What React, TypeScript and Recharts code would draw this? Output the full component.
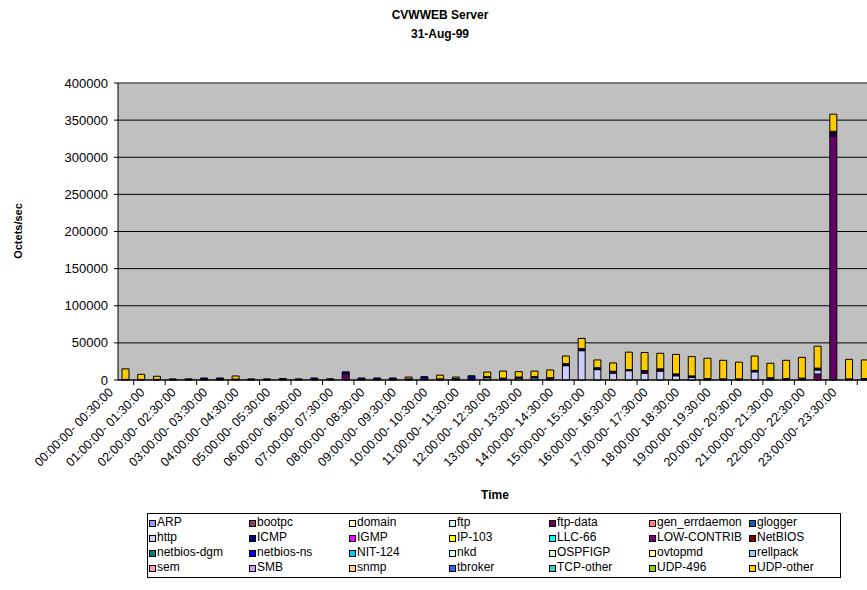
import React from 'react';
import { BarChart, Bar, XAxis, YAxis, CartesianGrid, ReferenceLine } from 'recharts';

const FONT = '"Liberation Sans", Arial, sans-serif';

const TIMES = [
  '00:00:00- 00:30:00', '00:30:00- 01:00:00', '01:00:00- 01:30:00', '01:30:00- 02:00:00',
  '02:00:00- 02:30:00', '02:30:00- 03:00:00', '03:00:00- 03:30:00', '03:30:00- 04:00:00',
  '04:00:00- 04:30:00', '04:30:00- 05:00:00', '05:00:00- 05:30:00', '05:30:00- 06:00:00',
  '06:00:00- 06:30:00', '06:30:00- 07:00:00', '07:00:00- 07:30:00', '07:30:00- 08:00:00',
  '08:00:00- 08:30:00', '08:30:00- 09:00:00', '09:00:00- 09:30:00', '09:30:00- 10:00:00',
  '10:00:00- 10:30:00', '10:30:00- 11:00:00', '11:00:00- 11:30:00', '11:30:00- 12:00:00',
  '12:00:00- 12:30:00', '12:30:00- 13:00:00', '13:00:00- 13:30:00', '13:30:00- 14:00:00',
  '14:00:00- 14:30:00', '14:30:00- 15:00:00', '15:00:00- 15:30:00', '15:30:00- 16:00:00',
  '16:00:00- 16:30:00', '16:30:00- 17:00:00', '17:00:00- 17:30:00', '17:30:00- 18:00:00',
  '18:00:00- 18:30:00', '18:30:00- 19:00:00', '19:00:00- 19:30:00', '19:30:00- 20:00:00',
  '20:00:00- 20:30:00', '20:30:00- 21:00:00', '21:00:00- 21:30:00', '21:30:00- 22:00:00',
  '22:00:00- 22:30:00', '22:30:00- 23:00:00', '23:00:00- 23:30:00', '23:30:00- 00:00:00',
];

const Y_TICKS = [0, 50000, 100000, 150000, 200000, 250000, 300000, 350000, 400000];

const ARP = [
  0, 0, 0, 0, 0, 0, 0, 0,
  0, 0, 0, 0, 0, 0, 0, 0,
  0, 0, 0, 0, 0, 0, 0, 0,
  0, 0, 3000, 1500, 0, 0, 0, 0,
  0, 0, 0, 0, 0, 0, 0, 0,
  0, 0, 0, 0, 0, 0, 0, 0,
];
const FTP_DATA = [
  0, 0, 0, 0, 0, 0, 0, 0,
  0, 0, 0, 0, 0, 0, 8000, 0,
  0, 0, 0, 0, 0, 0, 0, 0,
  0, 0, 0, 0, 0, 0, 0, 0,
  0, 0, 0, 0, 0, 0, 0, 0,
  0, 0, 0, 0, 8000, 328500, 0, 0,
];
const HTTP = [
  0, 0, 0, 0, 0, 0, 0, 0,
  0, 0, 0, 0, 0, 0, 0, 0,
  0, 0, 0, 0, 0, 0, 0, 3000,
  0, 2500, 0, 0, 19300, 39500, 14000, 9300,
  12500, 9300, 12000, 5700, 3500, 0, 0, 0,
  11000, 0, 0, 0, 5500, 0, 0, 0,
];
const ICMP = [
  800, 700, 800, 1500, 1500, 2700, 2700, 1200,
  1500, 1500, 2000, 1500, 2700, 1700, 3000, 2700,
  2700, 2700, 1500, 4500, 1500, 1800, 5700, 1500,
  2500, 1500, 1500, 1500, 2700, 2700, 2500, 2500,
  1500, 0, 0, 2500, 2000, 2000, 1500, 1500,
  2000, 3000, 2000, 2500, 2500, 4000, 1500, 2000,
];
const LOW_CONTRIB = [
  0, 0, 0, 0, 0, 0, 0, 0,
  0, 0, 0, 0, 0, 0, 0, 0,
  0, 0, 0, 0, 0, 0, 0, 0,
  0, 0, 0, 0, 0, 0, 0, 0,
  0, 2000, 1500, 0, 0, 0, 0, 0,
  0, 0, 0, 0, 0, 0, 0, 0,
];
const NETBIOS = [
  0, 0, 0, 0, 0, 0, 0, 0,
  0, 0, 0, 0, 0, 0, 0, 0,
  0, 0, 0, 0, 0, 0, 0, 0,
  0, 0, 0, 0, 0, 0, 0, 0,
  0, 1500, 1500, 0, 0, 0, 0, 0,
  0, 0, 0, 0, 0, 2500, 0, 0,
];
const UDP_OTHER = [
  14200, 7000, 4200, 0, 0, 0, 0, 4200,
  0, 0, 0, 0, 0, 0, 0, 0,
  0, 0, 2500, 0, 5000, 2200, 0, 6200,
  9500, 7200, 7500, 10500, 10300, 13800, 10500, 11200,
  23500, 24200, 21000, 26300, 26000, 27300, 25000, 22500,
  19300, 19500, 24500, 28000, 29500, 23000, 26300, 25000,
];

const LEGEND_NAMES = [
  'ARP', 'bootpc', 'domain', 'ftp', 'ftp-data', 'gen_errdaemon', 'glogger',
  'http', 'ICMP', 'IGMP', 'IP-103', 'LLC-66', 'LOW-CONTRIB', 'NetBIOS',
  'netbios-dgm', 'netbios-ns', 'NIT-124', 'nkd', 'OSPFIGP', 'ovtopmd', 'rellpack',
  'sem', 'SMB', 'snmp', 'tbroker', 'TCP-other', 'UDP-496', 'UDP-other',
];
const LEGEND_COLORS = [
  '#9999FF', '#993366', '#FFFFCC', '#CCFFFF', '#660066', '#FF8080', '#0066CC',
  '#CCCCFF', '#000080', '#FF00FF', '#FFFF00', '#00FFFF', '#800080', '#800000',
  '#008080', '#0000FF', '#00CCFF', '#CCFFFF', '#CCFFCC', '#FFFF99', '#99CCFF',
  '#FF99CC', '#CC99FF', '#FFCC99', '#3366FF', '#33CCCC', '#99CC00', '#FFCC00',
];

const SERIES: { key: string; values: number[] }[] = [
  { key: 'ARP', values: ARP },
  { key: 'ftp-data', values: FTP_DATA },
  { key: 'http', values: HTTP },
  { key: 'ICMP', values: ICMP },
  { key: 'LOW-CONTRIB', values: LOW_CONTRIB },
  { key: 'NetBIOS', values: NETBIOS },
  { key: 'UDP-other', values: UDP_OTHER },
];

const DATA = TIMES.map((t, i) => {
  const row: Record<string, string | number> = { time: t };
  SERIES.forEach((s) => {
    row[s.key] = s.values[i];
  });
  return row;
});

const colorOf = (name: string) => LEGEND_COLORS[LEGEND_NAMES.indexOf(name)];

const HALF_BAND = 7.86;

const XTick = (props: any) => {
  const { x, y, payload } = props;
  const tx = x - 12;
  const ty = y + 13;
  return (
    <g>
      <line x1={x + HALF_BAND} x2={x + HALF_BAND} y1={y} y2={y + 5} stroke="#000" strokeWidth={1} />
      <text
        x={tx}
        y={ty}
        textAnchor="end"
        transform={`rotate(-45 ${tx} ${ty})`}
        fontSize={12.5}
        fontFamily={FONT}
        fill="#000"
      >
        {payload.value}
      </text>
    </g>
  );
};

export default function App() {
  return (
    <div
      style={{
        position: 'fixed',
        left: 0,
        top: 0,
        width: 867,
        height: 590,
        overflow: 'hidden',
        background: '#fff',
        fontFamily: FONT,
      }}
    >
      <div
        style={{
          position: 'absolute',
          left: 340,
          width: 200,
          top: 6,
          textAlign: 'center',
          fontWeight: 'bold',
          fontSize: 12,
          lineHeight: '19px',
          color: '#000',
        }}
      >
        CVWWEB Server
        <br />
        31-Aug-99
      </div>
      <div style={{ position: 'absolute', left: 0, top: 0 }}>
        <BarChart
          width={900}
          height={590}
          data={DATA}
          margin={{ top: 83, right: 27, bottom: 150, left: 0 }}
          barSize={7}
        >
          <CartesianGrid vertical={false} stroke="#000" strokeOpacity={1} fill="#C0C0C0" fillOpacity={1} />
          <XAxis
            dataKey="time"
            height={60}
            interval={1}
            tickLine={false}
            tickSize={0}
            tickMargin={0}
            axisLine={{ stroke: '#000' }}
            tick={<XTick />}
            label={{
              content: () => (
                <text x={495} y={499} textAnchor="middle" fontWeight="bold" fontSize={12} fontFamily={FONT} fill="#000">
                  Time
                </text>
              ),
            }}
          />
          <YAxis
            width={118}
            domain={[0, 400000]}
            ticks={Y_TICKS}
            interval={0}
            tickSize={4}
            tickMargin={6}
            axisLine={{ stroke: '#000' }}
            tickLine={{ stroke: '#000' }}
            tick={{ fontSize: 13, fill: '#000', fontFamily: FONT }}
            label={{
              content: () => (
                <text
                  x={22}
                  y={231}
                  textAnchor="middle"
                  transform="rotate(-90 22 231)"
                  fontWeight="bold"
                  fontSize={11}
                  fontFamily={FONT}
                  fill="#000"
                >
                  Octets/sec
                </text>
              ),
            }}
          />
          <ReferenceLine y={400000} stroke="#808080" strokeWidth={1} />
          {SERIES.map((s) => (
            <Bar
              key={s.key}
              dataKey={s.key}
              stackId="a"
              fill={colorOf(s.key)}
              stroke="#000"
              strokeWidth={1}
              isAnimationActive={false}
            />
          ))}
        </BarChart>
      </div>
      <div
        style={{
          position: 'absolute',
          left: 147,
          top: 513,
          width: 694,
          height: 65,
          border: '1px solid #000',
          boxSizing: 'border-box',
          background: '#fff',
        }}
      >
        {LEGEND_NAMES.map((name, i) => {
          const col = i % 7;
          const row = Math.floor(i / 7);
          return (
            <div
              key={name}
              style={{
                position: 'absolute',
                left: 1 + col * 100,
                top: 1 + row * 15,
                height: 14,
                display: 'flex',
                alignItems: 'center',
                fontSize: 12,
                whiteSpace: 'nowrap',
                color: '#000',
              }}
            >
              <span
                style={{
                  display: 'inline-block',
                  width: 5,
                  height: 5,
                  border: '1px solid #000',
                  background: LEGEND_COLORS[i],
                  marginRight: 1,
                  marginTop: 3,
                }}
              />
              {name}
            </div>
          );
        })}
      </div>
    </div>
  );
}
